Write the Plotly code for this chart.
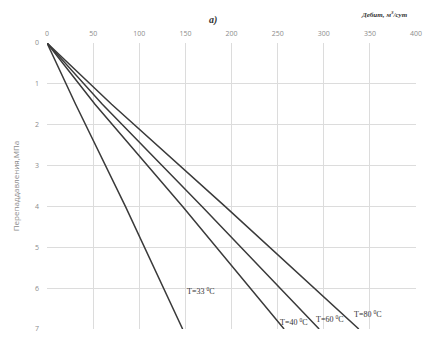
import plotly.graph_objects as go

# Data: pressure drop (MPa) vs flow rate (m3/day) for each temperature
dp = [0, 1.5, 4, 7]
q_t33 = [0, 31, 85, 147]
q_t40 = [0, 52, 147, 257]
q_t60 = [0, 60, 168, 295]
q_t80 = [0, 70, 193, 338]

series = [("T=33", q_t33), ("T=40", q_t40), ("T=60", q_t60), ("T=80", q_t80)]
label_pos = {"T=33": (150, 6.07), "T=40": (250, 6.83), "T=60": (289, 6.76), "T=80": (331, 6.64)}
label_text = {"T=33": "T=33 <sup>0</sup>C", "T=40": "T=40 <sup>0</sup>C",
              "T=60": "T=60 <sup>0</sup>C", "T=80": "T=80 <sup>0</sup>C"}

x_ticks = [0, 50, 100, 150, 200, 250, 300, 350, 400]
y_ticks = [0, 1, 2, 3, 4, 5, 6, 7]

fig = go.Figure()
for name, q in series:
    fig.add_trace(go.Scatter(x=q, y=dp, mode="lines", name=name,
                             line=dict(color="#3a3a3a", width=1.5), showlegend=False))
    lx, ly = label_pos[name]
    fig.add_annotation(x=lx, y=ly, text=label_text[name], showarrow=False,
                       xanchor="left", yanchor="middle",
                       font=dict(family="Liberation Serif", size=8, color="#333333"))

fig.add_annotation(x=0.45, y=1.0, xref="paper", yref="paper", yshift=31,
                   text="<b><i>a)</i></b>", showarrow=False,
                   font=dict(family="Liberation Serif", size=10, color="#333333"))
fig.add_annotation(x=1.0, y=1.0, xref="paper", yref="paper", yshift=35, xshift=-6,
                   text="<b><i>Дебит, м<sup>3</sup>/сут</i></b>", showarrow=False,
                   xanchor="right",
                   font=dict(family="Liberation Serif", size=7, color="#333333"))

fig.update_layout(
    width=427, height=338,
    margin=dict(l=47, r=8, t=43, b=5),
    paper_bgcolor="white", plot_bgcolor="white",
    xaxis=dict(side="top", range=[0, 400], tickvals=x_ticks, showgrid=True,
               gridcolor="#dcdcdc", gridwidth=1, zeroline=False, showline=False,
               ticks="", ticklabelstandoff=5,
               tickfont=dict(family="Open Sans", size=7, color="#8c8c8c")),
    yaxis=dict(range=[7, 0], tickvals=y_ticks, showgrid=True,
               gridcolor="#dcdcdc", gridwidth=1, zeroline=False, showline=False,
               ticks="", ticklabelstandoff=7,
               tickfont=dict(family="Open Sans", size=7, color="#8c8c8c"),
               title=dict(text="Перепаддавления,МПа", standoff=14,
                          font=dict(family="Open Sans", size=8, color="#8c8c8c"))),
)

fig.write_html("out.html")
